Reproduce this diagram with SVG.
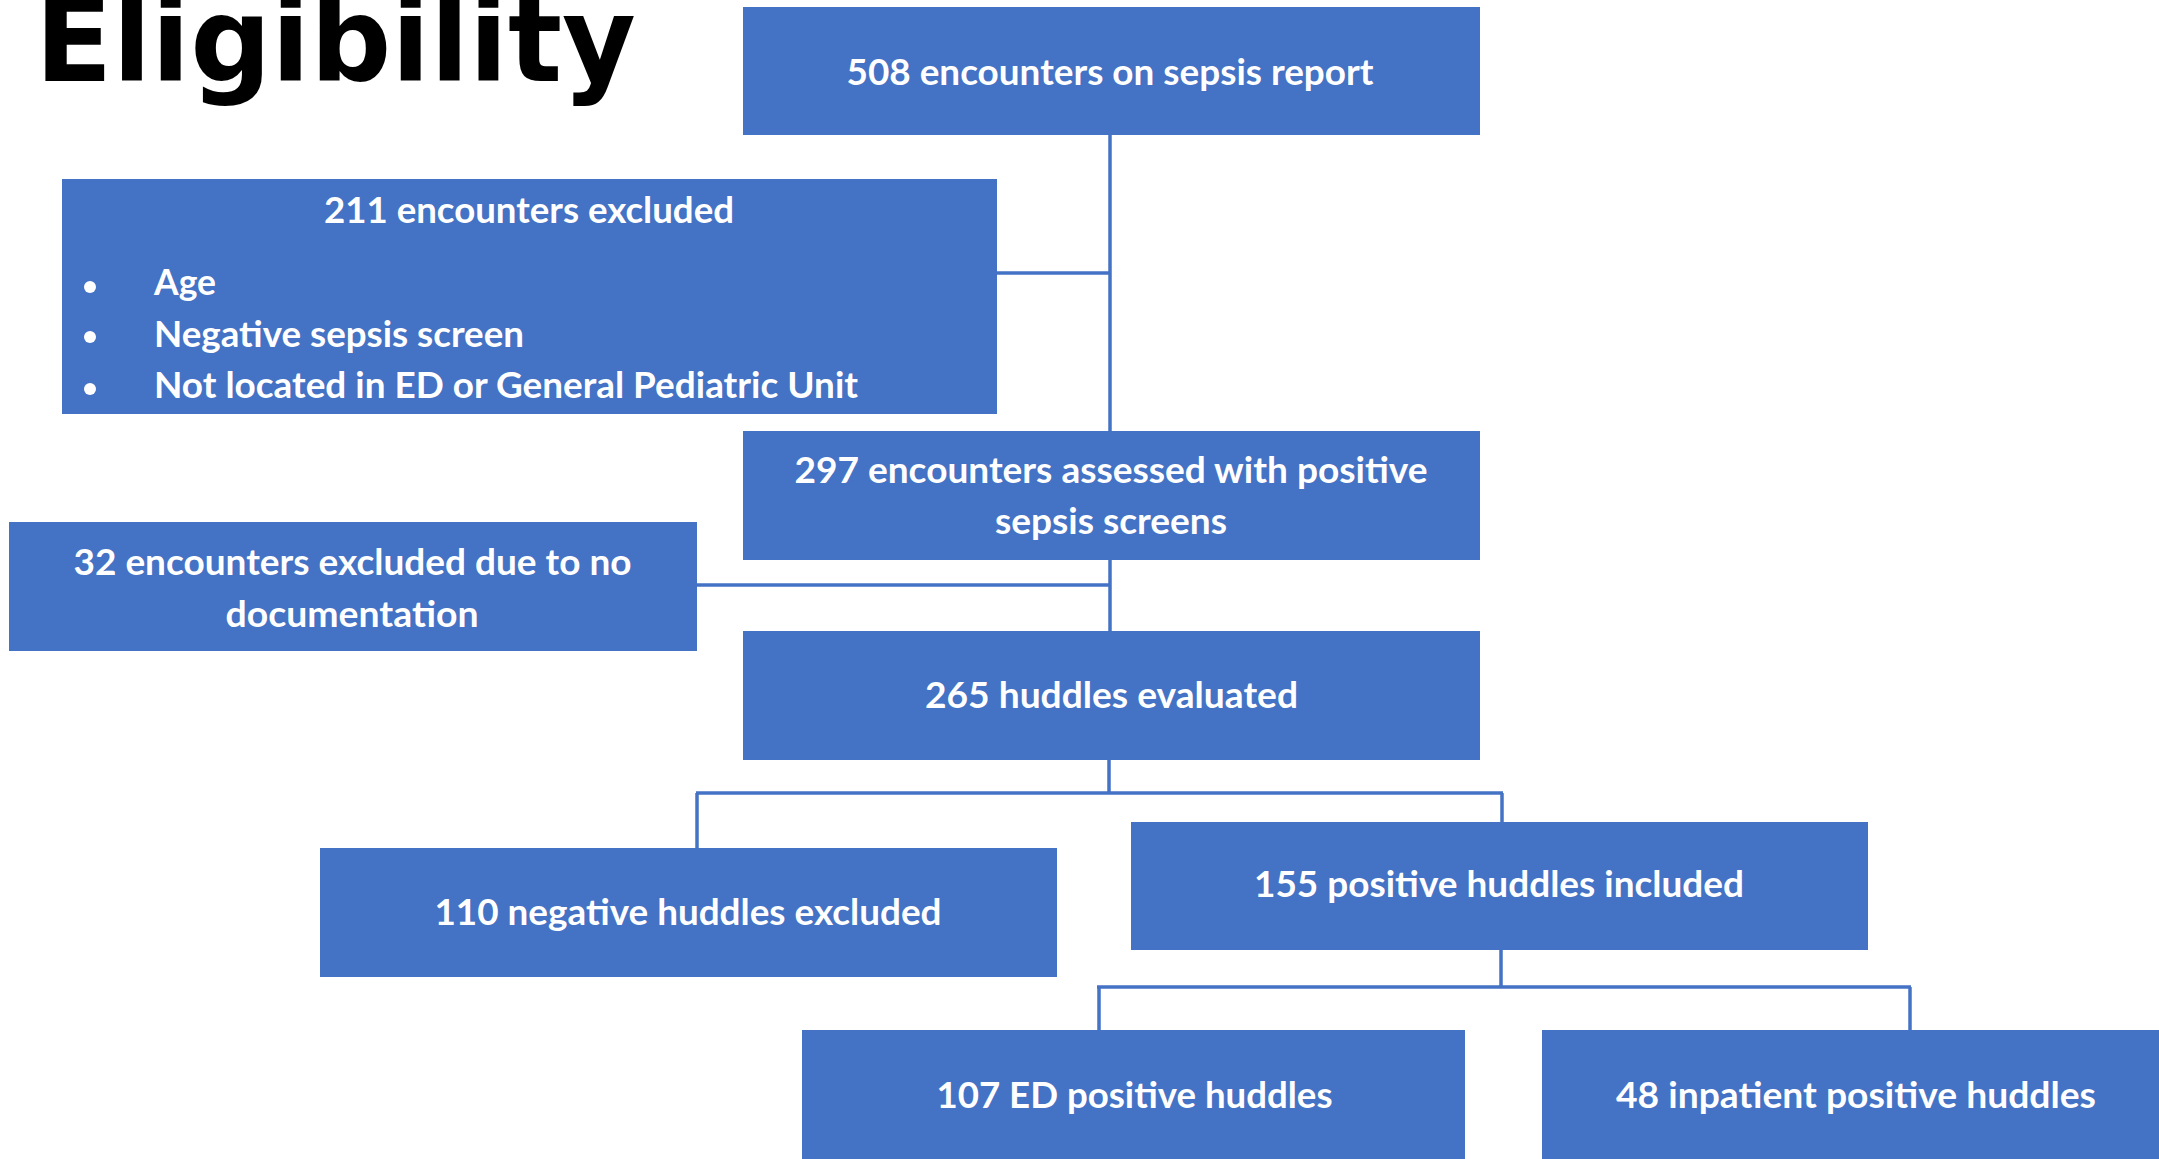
<svg xmlns="http://www.w3.org/2000/svg" width="2159" height="1159" viewBox="0 0 2159 1159">
<style>
.box{fill:#4472C4}
.t{font-family:Lato,"Open Sans","Liberation Sans",sans-serif;font-weight:bold;font-size:36px;fill:#FFFFFF}
.c{text-anchor:middle}
.ln{stroke:#4472C4;stroke-width:3.5;fill:none}
.title{font-family:"DejaVu Sans","Liberation Sans",sans-serif;font-weight:bold;font-size:117px;fill:#000000}
</style>
<rect width="2159" height="1159" fill="#FFFFFF"/>
<text class="title" x="35" y="81" textLength="601" lengthAdjust="spacingAndGlyphs">Eligibility</text>
<g id="connectors">
<line class="ln" x1="1110" y1="135" x2="1110" y2="431"/>
<line class="ln" x1="997" y1="273" x2="1110" y2="273"/>
<line class="ln" x1="1110" y1="560" x2="1110" y2="631"/>
<line class="ln" x1="697" y1="585" x2="1110" y2="585"/>
<line class="ln" x1="1109" y1="760" x2="1109" y2="793"/>
<line class="ln" x1="696" y1="793" x2="1503" y2="793"/>
<line class="ln" x1="697" y1="793" x2="697" y2="848"/>
<line class="ln" x1="1502" y1="793" x2="1502" y2="822"/>
<line class="ln" x1="1501" y1="950" x2="1501" y2="987"/>
<line class="ln" x1="1097" y1="987" x2="1911" y2="987"/>
<line class="ln" x1="1099" y1="987" x2="1099" y2="1030"/>
<line class="ln" x1="1910" y1="987" x2="1910" y2="1030"/>
</g>
<g id="n508">
<rect class="box" x="743" y="7" width="737" height="128"/>
<text class="t c" x="1110" y="85" textLength="527" lengthAdjust="spacingAndGlyphs">508 encounters on sepsis report</text>
</g>
<g id="n211">
<rect class="box" x="62" y="179" width="935" height="235"/>
<text class="t c" x="529" y="223" textLength="410" lengthAdjust="spacingAndGlyphs">211 encounters excluded</text>
<circle cx="90" cy="287" r="6" fill="#FFFFFF"/>
<circle cx="90" cy="337" r="6" fill="#FFFFFF"/>
<circle cx="90" cy="389" r="6" fill="#FFFFFF"/>
<text class="t" x="154" y="295" textLength="62" lengthAdjust="spacingAndGlyphs">Age</text>
<text class="t" x="154" y="347" textLength="370" lengthAdjust="spacingAndGlyphs">Negative sepsis screen</text>
<text class="t" x="154" y="398" textLength="704" lengthAdjust="spacingAndGlyphs">Not located in ED or General Pediatric Unit</text>
</g>
<g id="n297">
<rect class="box" x="743" y="431" width="737" height="129"/>
<text class="t c" x="1111" y="483" textLength="633" lengthAdjust="spacingAndGlyphs">297 encounters assessed with positive</text>
<text class="t c" x="1111" y="534" textLength="232" lengthAdjust="spacingAndGlyphs">sepsis screens</text>
</g>
<g id="n32">
<rect class="box" x="9" y="522" width="688" height="129"/>
<text class="t c" x="352.5" y="575" textLength="558" lengthAdjust="spacingAndGlyphs">32 encounters excluded due to no</text>
<text class="t c" x="352" y="627" textLength="253" lengthAdjust="spacingAndGlyphs">documentation</text>
</g>
<g id="n265">
<rect class="box" x="743" y="631" width="737" height="129"/>
<text class="t c" x="1111.5" y="708" textLength="373" lengthAdjust="spacingAndGlyphs">265 huddles evaluated</text>
</g>
<g id="n110">
<rect class="box" x="320" y="848" width="737" height="129"/>
<text class="t c" x="688" y="925" textLength="507" lengthAdjust="spacingAndGlyphs">110 negative huddles excluded</text>
</g>
<g id="n155">
<rect class="box" x="1131" y="822" width="737" height="128"/>
<text class="t c" x="1499" y="897" textLength="490" lengthAdjust="spacingAndGlyphs">155 positive huddles included</text>
</g>
<g id="n107">
<rect class="box" x="802" y="1030" width="663" height="129"/>
<text class="t c" x="1134.5" y="1108" textLength="396" lengthAdjust="spacingAndGlyphs">107 ED positive huddles</text>
</g>
<g id="n48">
<rect class="box" x="1542" y="1030" width="617" height="129"/>
<text class="t c" x="1856" y="1108" textLength="480" lengthAdjust="spacingAndGlyphs">48 inpatient positive huddles</text>
</g>
</svg>
